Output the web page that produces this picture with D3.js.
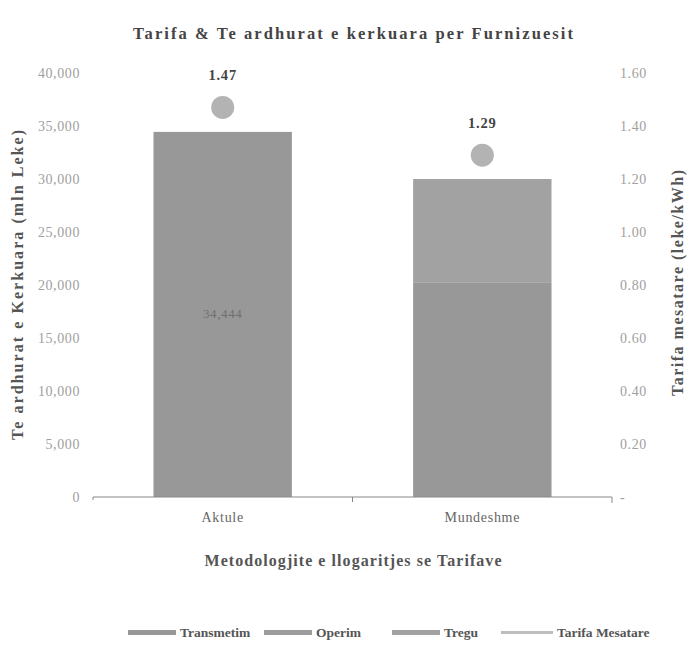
<!DOCTYPE html>
<html>
<head>
<meta charset="utf-8">
<script src="https://cdn.jsdelivr.net/npm/d3@7"></script>
<style>
  html, body { margin: 0; padding: 0; background: #fff; }
  svg { display: block; font-family: "Liberation Serif", "Times New Roman", serif; }
</style>
</head>
<body>
<svg id="chart" width="689" height="649"></svg>
<script>
// Revenue requirement (mln Leke) per methodology, stacked by component
const categories = ["Aktule", "Mundeshme"];
const transmetim = [34444, 20200];
const operim = [0, 0];
const tregu = [0, 9800];
// Average tariff (leke/kWh)
const tarifaMesatare = [1.47, 1.29];

const seriesNames = ["Transmetim", "Operim", "Tregu"];
const seriesColors = ["#989898", "#9c9c9c", "#a2a2a2"];
const lineColor = "#bdbdbd";

const leftTicks = [0, 5000, 10000, 15000, 20000, 25000, 30000, 35000, 40000];
const rightTicks = [0, 0.2, 0.4, 0.6, 0.8, 1.0, 1.2, 1.4, 1.6];

const svg = d3.select("#chart");
const margin = { left: 93, right: 612, top: 73, bottom: 497 };

const x = d3.scaleBand().domain(categories).range([margin.left, margin.right]).paddingInner(0.467).paddingOuter(0.233);
const yL = d3.scaleLinear().domain([0, 40000]).range([margin.bottom, margin.top]);
const yR = d3.scaleLinear().domain([0, 1.6]).range([margin.bottom, margin.top]);

const rows = categories.map((c, i) => ({ cat: c, Transmetim: transmetim[i], Operim: operim[i], Tregu: tregu[i] }));
const stacked = d3.stack().keys(seriesNames)(rows);

// Title
svg.append("text").attr("x", 353).attr("y", 39).attr("text-anchor", "middle")
  .attr("font-size", 16.5).attr("font-weight", "bold").attr("fill", "#444")
  .attr("textLength", 440).attr("lengthAdjust", "spacing")
  .text("Tarifa & Te ardhurat e kerkuara per Furnizuesit");

// Stacked bars
const g = svg.append("g");
stacked.forEach((s, si) => {
  g.selectAll(null).data(s.filter(d => d[1] > d[0])).enter().append("rect")
    .attr("x", d => x(d.data.cat))
    .attr("width", x.bandwidth())
    .attr("y", d => yL(d[1]))
    .attr("height", d => yL(d[0]) - yL(d[1]))
    .attr("fill", seriesColors[si]);
});

// Segment value label on the single-component bar
stacked.forEach(s => {
  s.filter(d => d[1] > d[0] && d.data.cat === "Aktule").forEach(d => {
    svg.append("text")
      .attr("x", x(d.data.cat) + x.bandwidth() / 2)
      .attr("y", (yL(d[0]) + yL(d[1])) / 2 + 4)
      .attr("text-anchor", "middle").attr("font-size", 13).attr("letter-spacing", 0.6).attr("fill", "#6f6f6f")
      .text(d3.format(",")(d[1] - d[0]));
  });
});

// Left axis labels
svg.append("g").selectAll("text").data(leftTicks).enter().append("text")
  .attr("x", 80).attr("y", d => yL(d) + 5).attr("text-anchor", "end")
  .attr("font-size", 14).attr("letter-spacing", 0.6).attr("fill", "#a0a0a0")
  .text(d => d3.format(",")(d));

// Right axis labels
svg.append("g").selectAll("text").data(rightTicks).enter().append("text")
  .attr("x", 620).attr("y", d => yR(d) + 5).attr("text-anchor", "start")
  .attr("font-size", 14).attr("letter-spacing", 0.6).attr("fill", "#a0a0a0")
  .text(d => d === 0 ? "-" : d3.format(".2f")(d));

// X axis
const xAxis = d3.axisBottom(x).tickSize(0).tickPadding(15);
const xg = svg.append("g").attr("transform", `translate(0,${margin.bottom})`).call(xAxis);
xg.select(".domain").attr("stroke", "#888").attr("d", `M${margin.left},3V0H${margin.right}V6`);
xg.selectAll(".tick text").attr("font-family", "Liberation Serif, serif").attr("font-size", 14)
  .attr("letter-spacing", 0.7).attr("fill", "#666");
svg.append("line").attr("x1", (margin.left + margin.right) / 2).attr("x2", (margin.left + margin.right) / 2)
  .attr("y1", margin.bottom).attr("y2", margin.bottom + 5).attr("stroke", "#888");

// Average tariff dots and labels
categories.forEach((c, i) => {
  const cx = x(c) + x.bandwidth() / 2;
  svg.append("circle").attr("cx", cx).attr("cy", yR(tarifaMesatare[i])).attr("r", 11.5).attr("fill", "#b3b3b3");
  svg.append("text").attr("x", cx).attr("y", yR(tarifaMesatare[i]) - 27)
    .attr("text-anchor", "middle").attr("font-size", 14.5).attr("font-weight", "bold")
    .attr("letter-spacing", 0.8).attr("fill", "#444")
    .text(d3.format(".2f")(tarifaMesatare[i]));
});

// Axis titles
svg.append("text").attr("transform", "translate(23,285) rotate(-90)").attr("text-anchor", "middle")
  .attr("font-size", 16).attr("font-weight", "bold").attr("fill", "#555")
  .attr("textLength", 310).attr("lengthAdjust", "spacing")
  .text("Te ardhurat e Kerkuara (mln Leke)");
svg.append("text").attr("transform", "translate(683,283) rotate(-90)").attr("text-anchor", "middle")
  .attr("font-size", 16).attr("font-weight", "bold").attr("fill", "#555")
  .attr("textLength", 226).attr("lengthAdjust", "spacing")
  .text("Tarifa mesatare (leke/kWh)");
svg.append("text").attr("x", 353).attr("y", 566).attr("text-anchor", "middle")
  .attr("font-size", 16).attr("font-weight", "bold").attr("fill", "#555")
  .attr("textLength", 297).attr("lengthAdjust", "spacing")
  .text("Metodologjite e llogaritjes se Tarifave");

// Legend
const legendItems = [
  { name: "Transmetim", color: seriesColors[0], x: 128, line: false },
  { name: "Operim", color: seriesColors[1], x: 264, line: false },
  { name: "Tregu", color: seriesColors[2], x: 392, line: false },
  { name: "Tarifa Mesatare", color: lineColor, x: 501, line: true }
];
const lg = svg.append("g");
legendItems.forEach(it => {
  if (it.line) {
    lg.append("rect").attr("x", it.x).attr("y", 631).attr("width", 52).attr("height", 3).attr("fill", it.color);
  } else {
    lg.append("rect").attr("x", it.x).attr("y", 630).attr("width", 48).attr("height", 5).attr("fill", it.color);
  }
  lg.append("text").attr("x", it.x + (it.line ? 56 : 52)).attr("y", 637).attr("font-size", 13.5).attr("font-weight", "bold")
    .attr("fill", "#555").text(it.name);
});
</script>
</body>
</html>
